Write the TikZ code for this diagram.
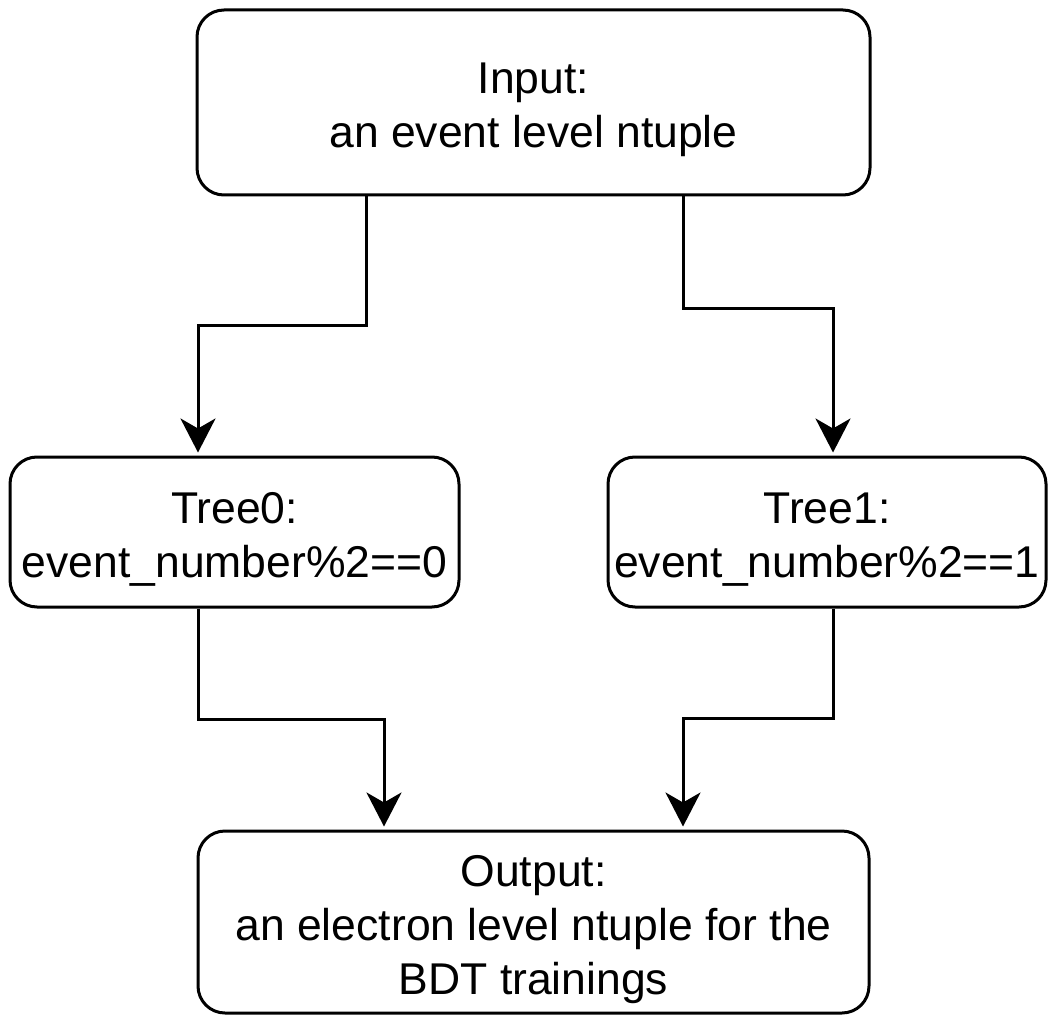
\documentclass[tikz,border=0pt]{standalone}
\usepackage{fontspec}
\setmainfont{Liberation Sans}
\usetikzlibrary{arrows.meta}
\newcommand\myTopS{\rule{0pt}{48pt}}
\newcommand\myBotS{\rule[-12pt]{0pt}{12pt}}
\begin{document}
\begin{tikzpicture}[x=1pt,y=-1pt,
  box/.style={draw=black, line width=3pt, rounded corners=27pt, align=center,
    inner sep=0pt, font=\fontsize{44.5}{54}\selectfont},
  conn/.style={line width=3pt, line join=miter,
    -{Stealth[length=34pt,width=35pt,inset=10pt]}, shorten >=3pt}]
\useasboundingbox (0,0) rectangle (1048,1016);
\node[box, minimum width=673pt, minimum height=185pt] (inp) at (533.5,102.5)
  {\myTopS Input:\\an event level ntuple\myBotS};
\node[box, minimum width=449pt, minimum height=150pt] (t0) at (234.5,532)
  {\myTopS Tree0:\\event\_number\%2==0\myBotS};
\node[box, minimum width=438pt, minimum height=150pt] (t1) at (827,532)
  {\myTopS Tree1:\\event\_number\%2==1\myBotS};
\node[box, minimum width=671pt, minimum height=182pt] (out) at (533.5,922)
  {\myTopS Output:\\an electron level ntuple for the\\BDT trainings\myBotS};
\coordinate (k1) at (366,325); \coordinate (k2) at (198,325);
\draw[conn] (inp.south -| k1) -- (k1) -- (k2) -- (t0.north -| k2);
\coordinate (k3) at (683,308); \coordinate (k4) at (833,308);
\draw[conn] (inp.south -| k3) -- (k3) -- (k4) -- (t1.north -| k4);
\coordinate (k5) at (198,719); \coordinate (k6) at (384,719);
\draw[conn] (t0.south -| k5) -- (k5) -- (k6) -- (out.north -| k6);
\coordinate (k7) at (833,718); \coordinate (k8) at (683,718);
\draw[conn] (t1.south -| k7) -- (k7) -- (k8) -- (out.north -| k8);
\end{tikzpicture}
\end{document}
